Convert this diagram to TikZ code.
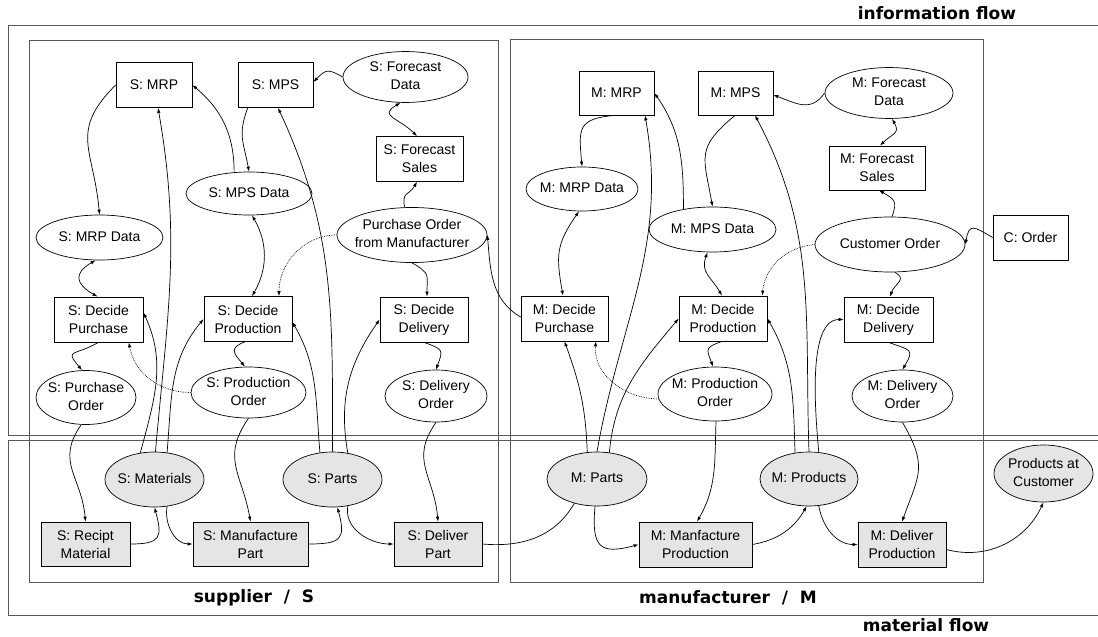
\documentclass[tikz,border=0pt]{standalone}
\usepackage{fontspec}
\setmainfont{Liberation Sans}
\newfontfamily\flowfont{DejaVu Sans}
\usetikzlibrary{shapes.geometric,arrows.meta}
\newcommand{\etxt}[1]{\makebox[0pt]{\begin{tabular}{@{}c@{}}#1\end{tabular}}}

\begin{document}
\begin{tikzpicture} [
  x = 1pt,
  y = 1pt,
  line width = .7pt,
  font = \fontsize{14}{18}\selectfont,
  proc/.style = {draw, rectangle, minimum height = 45pt, inner sep = 1pt, align = center},
  store/.style = {draw, ellipse, inner sep = 0pt},
  stock/.style = {fill = black!10},
  zone/.style = {draw = black!65, line width = 1pt},
  flow/.style = {-{Latex[length = 5pt, width = 3.5pt]}},
  twoway/.style = {{Latex[length = 5pt, width = 3.5pt]}-{Latex[length = 5pt, width = 3.5pt]}},
  hint/.style = {flow, densely dotted},
  flowlabel/.style = {font = \flowfont\bfseries\fontsize{17}{20}\selectfont},
]
\useasboundingbox (0, 0) rectangle (1098, -637);

% information flow / material flow
\draw [zone] (1098, -25) -- (8, -25) -- (8, -435) -- (1098, -435);
\draw [zone] (1098, -440) -- (8, -440) -- (8, -615) -- (1098, -615);
\draw [zone] (29, -40) rectangle (498, -582);
\draw [zone] (510, -39) rectangle (983, -582);
\node [flowlabel] (info) at (937, -13) {information flow};
\node [flowlabel] (matl) at (926, -625) {material flow};
\node [flowlabel] (supl) at (254, -598) {supplier\ \ /\ \ S};
\node [flowlabel] (manu) at (728, -598) {manufacturer\ \ /\ \ M};

% supplier
\node [proc, minimum width = 76pt] (smrp) at (154, -85) {S: MRP};
\node [proc, minimum width = 75pt] (smps) at (275.5, -85) {S: MPS};
\node [store, minimum width = 125pt, minimum height = 44pt] (sfd) at (405.5, -77) {\etxt{S: Forecast\\Data}};
\node [proc, minimum width = 87pt] (sfs) at (419.5, -159) {S: Forecast\\Sales};
\node [store, minimum width = 126pt, minimum height = 43pt] (smpsd) at (249, -193.5) {\etxt{S: MPS Data}};
\node [store, minimum width = 150pt, minimum height = 55pt] (pofm) at (412, -235) {\etxt{Purchase Order\\from Manufacturer}};
\node [store, minimum width = 127pt, minimum height = 45pt] (smrpd) at (99.5, -237.5) {\etxt{S: MRP Data}};
\node [proc, minimum width = 89pt] (sdp) at (98.5, -319.5) {S: Decide\\Purchase};
\node [proc, minimum width = 88pt] (sdpr) at (248, -319) {S: Decide\\Production};
\node [proc, minimum width = 88pt] (sdd) at (424, -319.5) {S: Decide\\Delivery};
\node [store, minimum width = 100pt, minimum height = 54pt] (spo) at (86, -397.5) {\etxt{S: Purchase\\Order}};
\node [store, minimum width = 115pt, minimum height = 51pt] (sproo) at (248.5, -392.5) {\etxt{S: Production\\Order}};
\node [store, minimum width = 102pt, minimum height = 52pt] (sdo) at (436, -396) {\etxt{S: Delivery\\Order}};
\node [store, stock, minimum width = 99pt, minimum height = 55pt] (smat) at (154.5, -479.5) {\etxt{S: Materials}};
\node [store, stock, minimum width = 99pt, minimum height = 55pt] (sparts) at (332.5, -479.5) {\etxt{S: Parts}};
\node [proc, stock, minimum width = 89pt, minimum height = 44pt] (srm) at (85.5, -544) {S: Recipt\\Material};
\node [proc, stock, minimum width = 115pt, minimum height = 44pt] (smp) at (250.5, -544) {S: Manufacture\\Part};
\node [proc, stock, minimum width = 88pt, minimum height = 44pt] (sdlp) at (438, -544) {S: Deliver\\Part};

% manufacturer
\node [proc, minimum width = 75pt, minimum height = 44pt] (mmrp) at (616.5, -93) {M: MRP};
\node [proc, minimum width = 75pt, minimum height = 44pt] (mmps) at (735.5, -93) {M: MPS};
\node [store, minimum width = 128pt, minimum height = 46pt] (mfd) at (889, -93) {\etxt{M: Forecast\\Data}};
\node [proc, minimum width = 96pt, minimum height = 44pt] (mfs) at (877, -168) {M: Forecast\\Sales};
\node [store, minimum width = 112pt, minimum height = 44pt] (mmrpd) at (582, -189) {\etxt{M: MRP Data}};
\node [store, minimum width = 127pt, minimum height = 45pt] (mmpsd) at (712.5, -229.5) {\etxt{M: MPS Data}};
\node [store, minimum width = 150pt, minimum height = 55pt] (co) at (890, -244.5) {\etxt{Customer Order}};
\node [proc, minimum width = 75pt] (cord) at (1030.5, -237.5) {C: Order};
\node [proc, minimum width = 87pt] (mdp) at (564.5, -318.5) {M: Decide\\Purchase};
\node [proc, minimum width = 88pt] (mdpr) at (723, -318.5) {M: Decide\\Production};
\node [proc, minimum width = 89pt] (mdd) at (888.5, -319.5) {M: Decide\\Delivery};
\node [store, minimum width = 114pt, minimum height = 54pt] (mpro) at (715, -394) {\etxt{M: Production\\Order}};
\node [store, minimum width = 101pt, minimum height = 52pt] (mdo) at (902.5, -396) {\etxt{M: Delivery\\Order}};
\node [store, stock, minimum width = 100pt, minimum height = 54pt] (mparts) at (597, -479) {\etxt{M: Parts}};
\node [store, stock, minimum width = 98pt, minimum height = 54pt] (mprod) at (809, -479) {\etxt{M: Products}};
\node [store, stock, minimum width = 99pt, minimum height = 57pt] (pac) at (1043.5, -473.5) {\etxt{Products at\\Customer}};
\node [proc, stock, minimum width = 113pt] (mmp) at (695.5, -544.5) {M: Manfacture\\Production};
\node [proc, stock, minimum width = 88pt] (mdlp) at (902, -544.5) {M: Deliver\\Production};

% supplier planning
\draw [flow] (smrp.west) to [out = 225, in = 95, looseness = 1.3] (smrpd.north);
\draw [twoway] ([xshift = -4pt]smrpd.south) to [out = 210, in = 150, looseness = 1.8] ([xshift = -1pt]sdp.north);
\draw [flow] (sdp.south) to [out = 210, in = 130, looseness = 2.2] ([xshift = -4pt]spo.north);
\draw [flow] (spo.260) to [out = 235, in = 95, looseness = 1.2] (srm.north);
\draw [flow] (sfd.west) to [out = 150, in = 45, looseness = 1.5] ([yshift = 3pt]smps.east);
\draw [twoway] ([xshift = -5pt]sfd.south) to [out = 210, in = 135, looseness = 1.8] ([xshift = -2.5pt]sfs.north);
\draw [flow] (pofm.105) to [out = 100, in = 240, looseness = 1.5] ([xshift = -2.5pt]sfs.south);
\draw [flow] ([xshift = 10pt]smps.south west) to [out = 250, in = 100, looseness = 1.2] (smpsd.north);
\draw [flow] (smpsd.125) to [out = 90, in = -40] (smrp.east);
\draw [twoway] ([xshift = 3pt]smpsd.south) to [out = -60, in = 60] ([xshift = 4pt]sdpr.north);
\draw [hint] (pofm.west) to [out = 180, in = 90] ([xshift = 31pt]sdpr.north);
\draw [flow] (pofm.south) to [out = -30, in = 90, looseness = 1.5] ([xshift = 3pt]sdd.north);
\draw [flow] ([xshift = -3pt]sdpr.south) to [out = 200, in = 130, looseness = 1.8] ([xshift = -3.5pt]sproo.north);
\draw [hint] (sproo.west) to [out = 180, in = -80] ([xshift = -14.5pt]sdp.south east);
\draw [flow] (sdd.south) to [out = -20, in = 70, looseness = 1.8] (sdo.north);
\draw [flow] (sproo.south) to [out = 235, in = 100, looseness = 1.2] (smp.north);
\draw [flow] (sdo.south) to [out = 235, in = 95, looseness = 1.2] (sdlp.north);
\draw [flow] ([yshift = 1.5pt]mdp.west) to [out = 150, in = -85] (pofm.east);

% supplier material
\draw [flow] (srm.east) to [out = 0, in = -75, looseness = 1.8] (smat.270);
\draw [flow] (smat.-65) to [out = -100, in = 180] (smp.west);
\draw [flow] (smp.east) to [out = 0, in = -75, looseness = 1.8] (sparts.-80);
\draw [flow] (sparts.-60) to [out = -100, in = 180] (sdlp.west);
\draw (sdlp.east) to [out = -5, in = 240] (mparts.227);
\draw [flow] (smat.118) to [out = 75, in = -65] ([yshift = 7pt]sdp.east);
\draw [flow] (smat.88) to [out = 85, in = -80] ([xshift = 4pt]smrp.south);
\draw [flow] (smat.65) to [out = 85, in = 230] (sdpr.west);
\draw [flow] (sparts.115) to [out = 95, in = -60] ([yshift = -3pt]sdpr.east);
\draw [flow] (sparts.north) to [out = 90, in = -65] ([xshift = 2.5pt]smps.south);
\draw [flow] (sparts.60) to [out = 100, in = 235] (sdd.west);

% manufacturer planning
\draw [flow] (mfd.west) to [out = 235, in = -20, looseness = 1.2] ([yshift = -2pt]mmps.east);
\draw [twoway] ([xshift = 3pt]mfd.south) to [out = -60, in = 45, looseness = 1.5] ([xshift = 3pt]mfs.north);
\draw [flow] ([xshift = 2pt]co.north) to [out = 70, in = -30, looseness = 1.5] ([xshift = 2pt]mfs.south);
\draw [flow] ([xshift = -1.5pt]mmrp.south) to [out = 185, in = 95, looseness = 1.6] (mmrpd.north);
\draw [twoway] ([xshift = -3pt]mmrpd.south) to [out = 235, in = 100, looseness = 1.2] ([xshift = -1.5pt]mdp.north);
\draw [flow] (mmpsd.145) to [out = 90, in = -55] (mmrp.east);
\draw [flow] ([xshift = -0.5pt]mmps.south) to [out = 220, in = 100, looseness = 1.4] (mmpsd.north);
\draw [twoway] ([xshift = -5pt]mmpsd.south) to [out = 250, in = 120, looseness = 1.2] ([xshift = -1pt]mdpr.north);
\draw [hint] (co.west) to [out = 185, in = 85] ([xshift = -5pt]mdpr.north east);
\draw [flow] ([xshift = 5pt]co.south) to [out = -30, in = 70, looseness = 1.5] ([xshift = 1.5pt]mdd.north);
\draw [flow] (cord.west) to [out = 150, in = 80, looseness = 2] (co.east);
\draw [flow] ([xshift = -1pt]mdpr.south) to [out = 200, in = 110, looseness = 1.8] ([xshift = -2pt]mpro.north);
\draw [hint] (mpro.185) to [out = 180, in = -95] ([xshift = -12.5pt]mdp.south east);
\draw [flow] (mdd.south) to [out = -20, in = 60, looseness = 2] (mdo.north);

% manufacturer material
\draw [flow] (mparts.110) to [out = 92, in = -70] (mdp.south);
\draw [flow] (mparts.north) to [out = 80, in = -80] ([xshift = 28.5pt]mmrp.south);
\draw [flow] (mparts.65) to [out = 85, in = 230] (mdpr.west);
\draw [flow] (mprod.118) to [out = 92, in = -60] (mdpr.east);
\draw [flow] (mprod.north) to [out = 92, in = -62] ([xshift = 19.5pt]mmps.south);
\draw [flow] (mprod.70) to [out = 95, in = 180, looseness = .7] (mdd.west);
\draw [flow] ([xshift = -2pt]mparts.south) to [out = 265, in = 195, looseness = 1.8] (mmp.west);
\draw [flow] (mmp.east) to [out = 10, in = 240] (mprod.265);
\draw [flow] (mprod.-70) to [out = -80, in = 180] (mdlp.west);
\draw [flow] ([yshift = -5pt]mdlp.east) to [out = -15, in = 245] (pac.south);
\draw [flow] ([xshift = 1pt]mpro.south) to [out = 268, in = 60] ([xshift = 1.5pt]mmp.north);
\draw [flow] (mdo.south) to [out = -60, in = 70, looseness = 1.3] (mdlp.north);
\end{tikzpicture}
\end{document}
